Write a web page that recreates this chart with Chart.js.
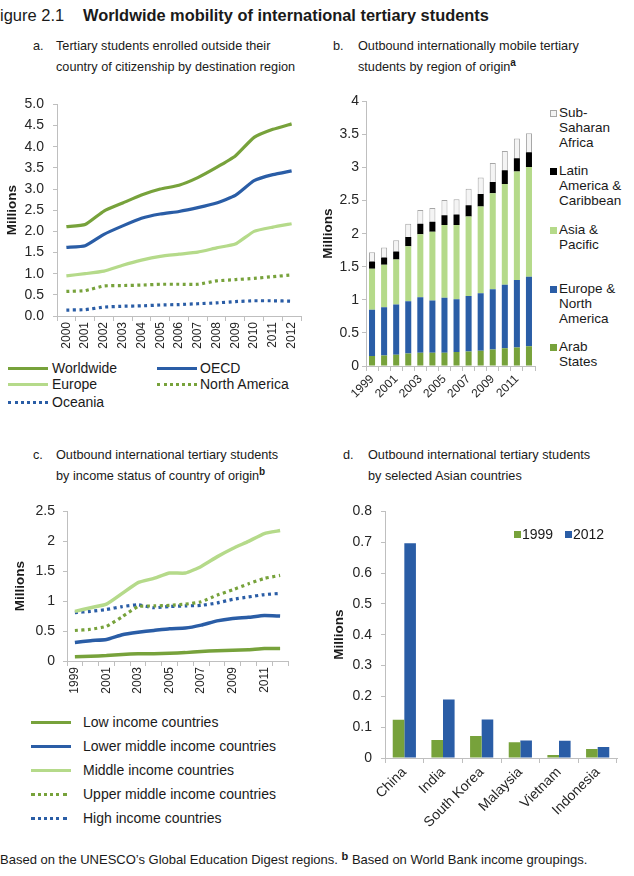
<!DOCTYPE html>
<html>
<head>
<meta charset="utf-8">
<script src="https://cdn.jsdelivr.net/npm/chart.js@4.4.0/dist/chart.umd.min.js"></script>
<style>
body{margin:0;width:634px;height:876px;position:relative;background:#fff;overflow:hidden;
  font-family:"Liberation Sans",Arial,sans-serif;color:#1a1a1a}
.abs{position:absolute;white-space:nowrap}
canvas{position:absolute}
.ptitle{font-size:12.7px;line-height:21px}
.ptitle sup{font-weight:bold;font-size:10px;vertical-align:5px;line-height:0}
.lg{font-size:14px;line-height:17px}
.sw{position:absolute;width:40px;height:0}
.sq{position:absolute;width:7px;height:7px;box-sizing:border-box}
.lgb{font-size:13.5px;line-height:15px}
</style>
</head>
<body>
<div class="abs" style="left:0;top:6px;font-size:16.5px">igure 2.1</div>
<div class="abs" style="left:83px;top:6px;font-size:16.4px;font-weight:bold">Worldwide mobility of international tertiary students</div>

<div class="abs ptitle" style="left:33px;top:36px">a.</div>
<div class="abs ptitle" style="left:56px;top:36px">Tertiary students enrolled outside their<br>country of citizenship by destination region</div>
<div class="abs ptitle" style="left:333px;top:36px">b.</div>
<div class="abs ptitle" style="left:358px;top:36px">Outbound internationally mobile tertiary<br>students by region of origin<sup>a</sup></div>

<div class="abs ptitle" style="left:33px;top:445px">c.</div>
<div class="abs ptitle" style="left:56px;top:445px">Outbound international tertiary students<br>by income status of country of origin<sup>b</sup></div>
<div class="abs ptitle" style="left:343px;top:445px">d.</div>
<div class="abs ptitle" style="left:368px;top:445px">Outbound international tertiary students<br>by selected Asian countries</div>

<canvas id="chartA" width="311" height="269" style="left:0;top:87px"></canvas>
<canvas id="chartB" width="225" height="318" style="left:320px;top:90px"></canvas>
<canvas id="chartC" width="298" height="206" style="left:0;top:495px"></canvas>
<canvas id="chartD" width="307" height="344" style="left:320px;top:494px"></canvas>

<!-- legend a -->
<div class="sw" style="left:8px;top:367px;border-top:3px solid #77A23B"></div>
<div class="abs lg" style="left:52px;top:360px">Worldwide</div>
<div class="sw" style="left:157px;top:367px;border-top:3px solid #2A5DA6"></div>
<div class="abs lg" style="left:200px;top:360px">OECD</div>
<div class="sw" style="left:8px;top:383px;border-top:3px solid #B5DA8A"></div>
<div class="abs lg" style="left:52px;top:376px">Europe</div>
<div class="sw" style="left:157px;top:383px;border-top:3px dotted #77A23B"></div>
<div class="abs lg" style="left:200px;top:376px">North America</div>
<div class="sw" style="left:8px;top:401px;border-top:3px dotted #2A5DA6"></div>
<div class="abs lg" style="left:52px;top:394px">Oceania</div>

<!-- legend b -->
<div class="sq" style="left:550px;top:110px;background:#F4F4F4;border:1px solid #A6A6A6"></div>
<div class="abs lgb" style="left:559px;top:105px">Sub-<br>Saharan<br>Africa</div>
<div class="sq" style="left:550px;top:168px;background:#000"></div>
<div class="abs lgb" style="left:559px;top:163px">Latin<br>America &amp;<br>Caribbean</div>
<div class="sq" style="left:550px;top:227px;background:#B5DA8A"></div>
<div class="abs lgb" style="left:559px;top:222px">Asia &amp;<br>Pacific</div>
<div class="sq" style="left:550px;top:286px;background:#2A5DA6"></div>
<div class="abs lgb" style="left:559px;top:281px">Europe &amp;<br>North<br>America</div>
<div class="sq" style="left:550px;top:344px;background:#77A23B"></div>
<div class="abs lgb" style="left:559px;top:339px">Arab<br>States</div>

<!-- legend c -->
<div class="sw" style="left:31px;top:721px;border-top:3.5px solid #77A23B"></div>
<div class="abs lg" style="left:83px;top:714px">Low income countries</div>
<div class="sw" style="left:31px;top:745px;border-top:3.5px solid #2A5DA6"></div>
<div class="abs lg" style="left:83px;top:738px">Lower middle income countries</div>
<div class="sw" style="left:31px;top:769px;border-top:3.5px solid #B5DA8A"></div>
<div class="abs lg" style="left:83px;top:762px">Middle income countries</div>
<div class="sw" style="left:31px;top:793px;border-top:3px dotted #77A23B;width:36px"></div>
<div class="abs lg" style="left:83px;top:786px">Upper middle income countries</div>
<div class="sw" style="left:31px;top:817px;border-top:3px dotted #2A5DA6;width:36px"></div>
<div class="abs lg" style="left:83px;top:810px">High income countries</div>

<!-- legend d -->
<div class="sq" style="left:514px;top:531px;background:#77A23B"></div>
<div class="abs lg" style="left:522px;top:526px">1999</div>
<div class="sq" style="left:565px;top:531px;background:#2A5DA6"></div>
<div class="abs lg" style="left:573px;top:526px">2012</div>

<div class="abs" style="left:0;top:850px;font-size:13px">Based on the UNESCO’s Global Education Digest regions. <b style="font-size:11px;vertical-align:4px">b</b> Based on World Bank income groupings.</div>

<script>
// panel a: destination region, millions
const yearsA = ['2000','2001','2002','2003','2004','2005','2006','2007','2008','2009','2010','2011','2012'];
const worldwide = [2.11, 2.16, 2.48, 2.67, 2.86, 3.00, 3.09, 3.27, 3.51, 3.78, 4.22, 4.41, 4.54];
const oecd = [1.62, 1.66, 1.93, 2.13, 2.31, 2.41, 2.47, 2.56, 2.67, 2.85, 3.20, 3.34, 3.43];
const europe = [0.95, 1.00, 1.06, 1.20, 1.32, 1.41, 1.46, 1.51, 1.61, 1.70, 2.00, 2.10, 2.18];
const northAmerica = [0.58, 0.60, 0.71, 0.72, 0.73, 0.75, 0.75, 0.75, 0.83, 0.86, 0.89, 0.93, 0.97];
const oceania = [0.14, 0.15, 0.21, 0.23, 0.24, 0.26, 0.27, 0.29, 0.31, 0.34, 0.36, 0.36, 0.35];

// panel b: region of origin (stacked)
const yearsB = ['1999','2000','2001','2002','2003','2004','2005','2006','2007','2008','2009','2010','2011','2012'];
const arabStates = [0.15, 0.16, 0.17, 0.19, 0.20, 0.20, 0.20, 0.21, 0.22, 0.23, 0.25, 0.27, 0.28, 0.30];
const europeNA = [0.70, 0.73, 0.76, 0.79, 0.84, 0.79, 0.83, 0.80, 0.84, 0.87, 0.91, 0.96, 1.02, 1.05];
const asiaPacific = [0.62, 0.64, 0.68, 0.83, 0.95, 1.04, 1.10, 1.12, 1.20, 1.31, 1.45, 1.52, 1.64, 1.66];
const latinAmerica = [0.11, 0.11, 0.12, 0.14, 0.16, 0.15, 0.15, 0.16, 0.17, 0.19, 0.17, 0.21, 0.20, 0.22];
const subSaharan = [0.14, 0.15, 0.17, 0.20, 0.21, 0.21, 0.23, 0.23, 0.25, 0.25, 0.29, 0.29, 0.30, 0.29];

// panel c: income status of origin
const yearsC = yearsB;
const lowIncome = [0.07, 0.08, 0.09, 0.11, 0.12, 0.12, 0.13, 0.14, 0.16, 0.17, 0.18, 0.19, 0.21, 0.21];
const lowerMiddle = [0.31, 0.34, 0.36, 0.44, 0.48, 0.51, 0.54, 0.55, 0.60, 0.67, 0.71, 0.73, 0.76, 0.75];
const middleIncome = [0.83, 0.89, 0.95, 1.13, 1.31, 1.38, 1.47, 1.47, 1.58, 1.74, 1.88, 2.00, 2.13, 2.18];
const upperMiddle = [0.51, 0.53, 0.58, 0.74, 0.91, 0.92, 0.93, 0.95, 0.99, 1.10, 1.19, 1.29, 1.38, 1.43];
const highIncome = [0.81, 0.83, 0.86, 0.91, 0.94, 0.89, 0.91, 0.92, 0.93, 0.97, 1.03, 1.07, 1.11, 1.13];

// panel d: selected Asian countries
const countries = ['China', 'India', 'South Korea', 'Malaysia', 'Vietnam', 'Indonesia'];
const out1999 = [0.124, 0.058, 0.071, 0.051, 0.010, 0.029];
const out2012 = [0.697, 0.190, 0.125, 0.057, 0.056, 0.036];

const GREEN = '#77A23B', BLUE = '#2A5DA6', LIGHT = '#B5DA8A', AXIS = '#BFBFBF';

Chart.defaults.font.family = '"Liberation Sans", Arial, sans-serif';
Chart.defaults.color = '#262626';
Chart.defaults.animation = false;
Chart.defaults.responsive = false;
Chart.defaults.plugins.legend.display = false;
Chart.defaults.plugins.tooltip.enabled = false;

function yAxis(max, step, width, titlePad, labelPad, fixed) {
  return {
    min: 0, max: max,
    ticks: {stepSize: step, padding: labelPad, font: {size: 14},
      // excel style: "5.0" in panel a, "0.5"/"1" elsewhere
      callback: v => fixed ? v.toFixed(1) : String(Math.round(v * 10) / 10)},
    grid: {drawOnChartArea: false, tickLength: 4, color: AXIS},
    border: {color: AXIS},
    title: {display: true, text: 'Millions', color: '#1a1a1a',
      font: {size: 13.5, weight: 'bold'}, padding: {top: titlePad, bottom: 0}},
    afterFit: s => { s.width = width; }
  };
}

function xAxis(height, rot, size, every) {
  return {
    offset: true,
    grid: {offset: true, drawOnChartArea: false, tickLength: 5, color: AXIS},
    border: {color: AXIS},
    ticks: {autoSkip: false, minRotation: rot, maxRotation: rot, padding: 1, font: {size: size},
      callback: function(v, i) { return i % every === 0 ? this.getLabelForValue(v) : ''; }},
    afterFit: s => { s.height = height; }
  };
}

function line(label, data, color, dotted, w) {
  return {label: label, data: data, borderColor: color, backgroundColor: color,
    borderWidth: w || 3.2, pointRadius: 0, tension: 0.15, fill: false,
    borderDash: dotted ? [3, 3.5] : []};
}

new Chart(document.getElementById('chartA'), {
  type: 'line',
  data: {
    labels: yearsA,
    datasets: [
      line('Worldwide', worldwide, GREEN),
      line('OECD', oecd, BLUE),
      line('Europe', europe, LIGHT),
      line('North America', northAmerica, GREEN, true),
      line('Oceania', oceania, BLUE, true)
    ]
  },
  options: {
    layout: {padding: {top: 10, right: 10, left: 0, bottom: 0}},
    scales: {x: xAxis(40, 90, 12, 1), y: yAxis(5, 0.5, 57, 4, 9, true)}
  }
});

new Chart(document.getElementById('chartB'), {
  type: 'bar',
  data: {
    labels: yearsB,
    datasets: [
      {label: 'Arab States', data: arabStates, backgroundColor: GREEN},
      {label: 'Europe & North America', data: europeNA, backgroundColor: BLUE},
      {label: 'Asia & Pacific', data: asiaPacific, backgroundColor: LIGHT},
      {label: 'Latin America & Caribbean', data: latinAmerica, backgroundColor: '#000000'},
      {label: 'Sub-Saharan Africa', data: subSaharan, backgroundColor: '#F4F4F4', borderColor: '#A6A6A6', borderWidth: 1}
    ]
  },
  options: {
    barPercentage: 0.5, categoryPercentage: 1,
    layout: {padding: {top: 10, right: 10, left: 0, bottom: 0}},
    scales: {
      x: Object.assign(xAxis(42, 45, 12, 2), {stacked: true}),
      y: Object.assign(yAxis(4, 0.5, 46, 0, 3, false), {stacked: true})
    }
  }
});

new Chart(document.getElementById('chartC'), {
  type: 'line',
  data: {
    labels: yearsC,
    datasets: [
      line('Low income countries', lowIncome, GREEN, false, 3.5),
      line('Lower middle income countries', lowerMiddle, BLUE, false, 3.5),
      line('Middle income countries', middleIncome, LIGHT, false, 3.5),
      line('Upper middle income countries', upperMiddle, GREEN, true),
      line('High income countries', highIncome, BLUE, true)
    ]
  },
  options: {
    layout: {padding: {top: 10, right: 10, left: 0, bottom: 0}},
    scales: {x: xAxis(40, 90, 12, 2), y: yAxis(2.5, 0.5, 67, 12, 8, false)}
  }
});

new Chart(document.getElementById('chartD'), {
  type: 'bar',
  data: {
    labels: countries,
    datasets: [
      {label: '1999', data: out1999, backgroundColor: GREEN},
      {label: '2012', data: out2012, backgroundColor: BLUE}
    ]
  },
  options: {
    barPercentage: 1, categoryPercentage: 0.6,
    layout: {padding: {top: 10, right: 10, left: 0, bottom: 0}},
    scales: {x: xAxis(80, 45, 14, 1), y: yAxis(0.8, 0.1, 65, 11, 9, false)}
  }
});
</script>
</body>
</html>
